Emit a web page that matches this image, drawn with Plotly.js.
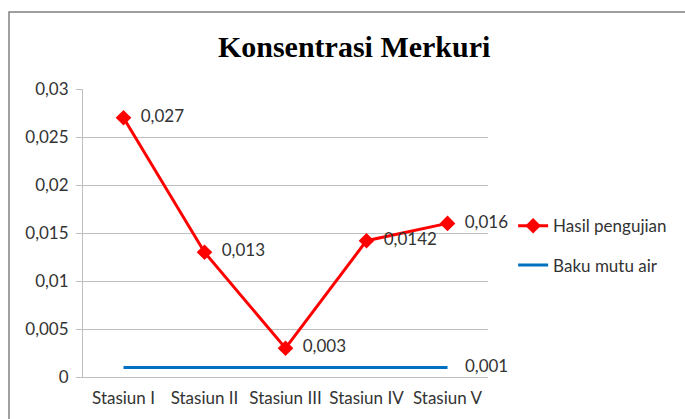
<!DOCTYPE html>
<html>
<head>
<meta charset="utf-8">
<script src="https://cdn.plot.ly/plotly-3.0.1.min.js"></script>
<style>html,body{margin:0;padding:0;background:#fff;}#chart{width:685px;height:419px;}</style>
</head>
<body>
<div id="chart"></div>
<script>
const categories = ['Stasiun I', 'Stasiun II', 'Stasiun III', 'Stasiun IV', 'Stasiun V'];
const hasilPengujian = [0.027, 0.013, 0.003, 0.0142, 0.016];
const bakuMutuAir = [0.001, 0.001, 0.001, 0.001, 0.001];
const yTickVals = [0, 0.005, 0.01, 0.015, 0.02, 0.025, 0.03];
const yTickText = ['0', '0,005', '0,01', '0,015', '0,02', '0,025', '0,03'];

const fmt = (v, pad) => pad + String(v).replace('.', ',');

const traces = [
  {
    x: categories, y: hasilPengujian, name: 'Hasil pengujian', type: 'scatter',
    mode: 'lines+markers+text', legendgroup: 'a',
    line: {color: '#ff0000', width: 3},
    marker: {symbol: 'diamond', size: 12, color: '#ff0000'},
    text: hasilPengujian.map(v => fmt(v, '  ')), textposition: 'middle right',
    textfont: {family: 'Lato, sans-serif', size: 17, color: '#333333'},
    cliponaxis: false
  },
  {
    x: categories, y: bakuMutuAir, name: 'Baku mutu air', type: 'scatter',
    mode: 'lines+text', legendgroup: 'b',
    line: {color: '#0070c0', width: 3},
    text: bakuMutuAir.map((v, i) => i === bakuMutuAir.length - 1 ? fmt(v, '    ') : ''),
    textposition: 'middle right',
    textfont: {family: 'Lato, sans-serif', size: 17, color: '#333333'},
    cliponaxis: false
  }
];

const layout = {
  width: 685, height: 419,
  margin: {l: 83, r: 197, t: 89, b: 42},
  paper_bgcolor: '#ffffff', plot_bgcolor: '#ffffff',
  font: {family: 'Lato, sans-serif', size: 17, color: '#333333'},
  title: {
    text: '<b>Konsentrasi Merkuri</b>',
    font: {family: 'Liberation Serif, Times New Roman, serif', size: 30, color: '#000000'},
    xref: 'container', x: 0.517, xanchor: 'center',
    yref: 'container', y: 0.888, yanchor: 'middle'
  },
  xaxis: {
    type: 'category', range: [-0.5, 4.5],
    showgrid: false, showline: true, linecolor: '#bfbfbf', linewidth: 1,
    ticks: '', ticklabelstandoff: 6,
    tickfont: {size: 17, color: '#333333'}, fixedrange: true
  },
  yaxis: {
    range: [0, 0.03], tickvals: yTickVals, ticktext: yTickText,
    showgrid: true, gridcolor: '#bfbfbf', gridwidth: 1,
    showline: true, linecolor: '#bfbfbf', linewidth: 1,
    ticks: 'outside', ticklen: 6, tickcolor: '#bfbfbf', ticklabelstandoff: 4,
    zeroline: false, tickfont: {size: 17, color: '#333333'}, fixedrange: true
  },
  showlegend: true,
  legend: {
    x: 1.062, xanchor: 'left', y: 0.586, yanchor: 'top',
    traceorder: 'grouped', tracegroupgap: 14,
    font: {size: 17, color: '#333333'}, bgcolor: 'rgba(0,0,0,0)'
  },
  shapes: [
    {type: 'rect', xref: 'paper', yref: 'paper', x0: -0.1827, x1: 1.6, y0: -0.2, y1: 1.2674,
     line: {color: '#808080', width: 1.5}, fillcolor: 'rgba(0,0,0,0)', layer: 'below'}
  ]
};

Plotly.newPlot('chart', traces, layout, {displayModeBar: false, staticPlot: true});
</script>
</body>
</html>
